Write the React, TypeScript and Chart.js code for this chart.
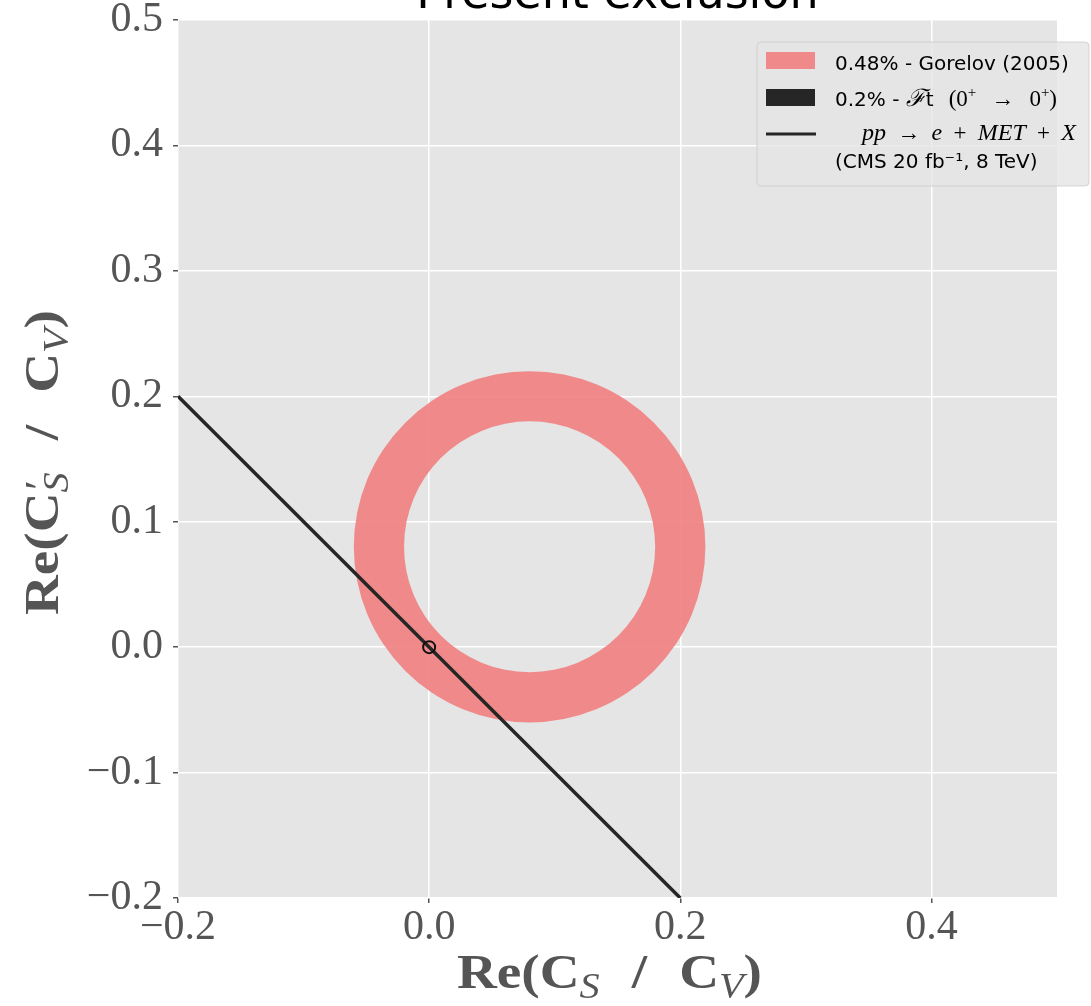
import React, { useEffect, useRef } from 'react';
import { Chart, registerables } from 'chart.js';
Chart.register(...registerables);

// ---- data ----
const xTicks = [-0.2, 0.0, 0.2, 0.4];
const yTicks = [-0.2, -0.1, 0.0, 0.1, 0.2, 0.3, 0.4, 0.5];
const xRange = [-0.2, 0.5];
const yRange = [-0.2, 0.5];
const ringCenter = [0.08, 0.08];
const ringOuterRadius = 0.14;
const ringInnerRadius = 0.1;
const cmsLineX = [-0.2, 0.2];
const cmsLineY = [0.2, -0.2];
const smPointX = [0.0];
const smPointY = [0.0];
const titleText = 'Present exclusion';
const legendGorelov = '0.48% - Gorelov (2005)';
const legendCms2 = '(CMS 20 fb\u207B\u00B9, 8 TeV)';

const TICK_FONT = '"Liberation Serif", serif';
const GRAY = '#555555';
const RING_COLOR = 'rgba(241,128,128,0.9)';
const DARK = '#262626';

type Piece = { t: string; f: string; dy?: number; gap?: boolean; over?: Piece };

function put(ctx: CanvasRenderingContext2D, text: string, font: string, x: number, y: number) {
  ctx.font = font;
  ctx.textAlign = 'left';
  ctx.textBaseline = 'alphabetic';
  ctx.fillText(text, x, y);
}

// lays out pieces from x, spreading extra space over marked gaps so the run spans `target`
function spread(ctx: CanvasRenderingContext2D, pieces: Piece[], target: number) {
  const widths = pieces.map((p) => {
    ctx.font = p.f;
    return ctx.measureText(p.t).width;
  });
  const natural = widths.reduce((a, b) => a + b, 0);
  const nGaps = pieces.filter((p) => p.gap).length;
  const extra = nGaps > 0 ? (target - natural) / nGaps : 0;
  let x = 0;
  pieces.forEach((p, i) => {
    put(ctx, p.t, p.f, x, p.dy || 0);
    if (p.over) put(ctx, p.over.t, p.over.f, x + 2, p.over.dy || 0);
    x += widths[i] + (p.gap ? extra : 0);
  });
}

const fmt = (v: number) => (v < 0 ? '\u2212' + Math.abs(v).toFixed(1) : v.toFixed(1));

const bgPlugin = {
  id: 'bgPlugin',
  beforeDraw(chart: any) {
    const { ctx, chartArea } = chart;
    ctx.save();
    ctx.fillStyle = '#e5e5e5';
    ctx.fillRect(chartArea.left, chartArea.top, chartArea.right - chartArea.left, chartArea.bottom - chartArea.top);
    ctx.restore();
  },
};

const ringPlugin = {
  id: 'ringPlugin',
  beforeDatasetsDraw(chart: any) {
    const { ctx, chartArea, scales } = chart;
    const xs = scales.x;
    const ys = scales.y;
    const cx = xs.getPixelForValue(ringCenter[0]);
    const cy = ys.getPixelForValue(ringCenter[1]);
    const rxo = Math.abs(xs.getPixelForValue(ringCenter[0] + ringOuterRadius) - cx);
    const ryo = Math.abs(ys.getPixelForValue(ringCenter[1] + ringOuterRadius) - cy);
    const rxi = Math.abs(xs.getPixelForValue(ringCenter[0] + ringInnerRadius) - cx);
    const ryi = Math.abs(ys.getPixelForValue(ringCenter[1] + ringInnerRadius) - cy);
    ctx.save();
    ctx.beginPath();
    ctx.rect(chartArea.left, chartArea.top, chartArea.right - chartArea.left, chartArea.bottom - chartArea.top);
    ctx.clip();
    ctx.beginPath();
    ctx.ellipse(cx, cy, rxo, ryo, 0, 0, Math.PI * 2);
    ctx.moveTo(cx + rxi, cy);
    ctx.ellipse(cx, cy, rxi, ryi, 0, 0, Math.PI * 2, true);
    ctx.fillStyle = RING_COLOR;
    ctx.fill('evenodd');
    ctx.restore();
  },
};

const B = 'bold 48px "Liberation Serif", serif';
const I = 'italic 35px "Liberation Serif", serif';
const PRIME = '40px "Liberation Serif", serif';
const STRETCH = 1.15;
const TITLE_SPAN = 305;

function drawAxisTitle(ctx: CanvasRenderingContext2D, withPrime: boolean) {
  ctx.save();
  ctx.scale(STRETCH, 1);
  spread(
    ctx,
    [
      { t: 'Re(C', f: B },
      withPrime
        ? { t: 'S', f: I, dy: 10, gap: true, over: { t: '\u2032', f: PRIME, dy: -6 } }
        : { t: 'S', f: I, dy: 10, gap: true },
      { t: '/', f: B, gap: true },
      { t: 'C', f: B },
      { t: 'V', f: I, dy: 10 },
      { t: ')', f: B },
    ],
    TITLE_SPAN / STRETCH
  );
  ctx.restore();
}

const textPlugin = {
  id: 'textPlugin',
  afterDraw(chart: any) {
    const { ctx, chartArea } = chart;
    ctx.save();
    // title (cut off at top)
    ctx.fillStyle = '#000';
    ctx.font = '46px "DejaVu Sans", sans-serif';
    ctx.textAlign = 'center';
    ctx.textBaseline = 'alphabetic';
    ctx.fillText(titleText, (chartArea.left + chartArea.right) / 2, 8);

    // x axis title
    ctx.fillStyle = GRAY;
    ctx.save();
    ctx.translate(457, 988);
    drawAxisTitle(ctx, false);
    ctx.restore();

    // y axis title (rotated)
    ctx.save();
    ctx.translate(58, 615);
    ctx.rotate(-Math.PI / 2);
    drawAxisTitle(ctx, true);
    ctx.restore();

    // legend
    const lx = 757;
    const ly = 42;
    const lw = 332;
    const lh = 144;
    ctx.beginPath();
    if ((ctx as any).roundRect) (ctx as any).roundRect(lx, ly, lw, lh, 4);
    else ctx.rect(lx, ly, lw, lh);
    ctx.fillStyle = 'rgba(229,229,229,0.8)';
    ctx.fill();
    ctx.strokeStyle = 'rgba(204,204,204,0.8)';
    ctx.lineWidth = 1;
    ctx.stroke();

    ctx.fillStyle = RING_COLOR;
    ctx.fillRect(766, 52, 49, 17);
    ctx.fillStyle = DARK;
    ctx.fillRect(766, 89, 49, 17);
    ctx.strokeStyle = DARK;
    ctx.lineWidth = 3;
    ctx.beginPath();
    ctx.moveTo(766, 134);
    ctx.lineTo(816, 134);
    ctx.stroke();

    const S = '20px "DejaVu Sans", sans-serif';
    const SR = '23px "Liberation Serif", serif';
    const SRi = 'italic 24px "Liberation Serif", serif';
    const SUP = '15px "Liberation Serif", serif';
    ctx.fillStyle = '#000';
    put(ctx, legendGorelov, S, 835, 70);

    ctx.save();
    ctx.translate(835, 106);
    spread(
      ctx,
      [
        { t: '0.2% - ', f: S },
        { t: '\u2131', f: SRi },
        { t: 't', f: S, gap: true },
        { t: '(0', f: SR },
        { t: '+', f: SUP, dy: -9, gap: true },
        { t: '\u2192', f: SR, gap: true },
        { t: '0', f: SR },
        { t: '+', f: SUP, dy: -9 },
        { t: ')', f: SR },
      ],
      222
    );
    ctx.restore();

    ctx.save();
    ctx.translate(862, 140);
    spread(
      ctx,
      [
        { t: 'pp', f: SRi, gap: true },
        { t: '\u2192', f: SR, gap: true },
        { t: 'e', f: SRi, gap: true },
        { t: '+', f: SR, gap: true },
        { t: 'MET', f: SRi, gap: true },
        { t: '+', f: SR, gap: true },
        { t: 'X', f: SRi },
      ],
      214
    );
    ctx.restore();

    put(ctx, legendCms2, S, 835, 168);
    ctx.restore();
  },
};

export default function App() {
  const ref = useRef<HTMLCanvasElement>(null);
  useEffect(() => {
    if (!ref.current) return;
    const chart = new Chart(ref.current, {
      type: 'scatter',
      data: {
        datasets: [
          {
            label: 'SM',
            data: smPointX.map((x, i) => ({ x, y: smPointY[i] })),
            pointRadius: 6,
            pointBorderWidth: 2,
            pointBorderColor: '#111',
            pointBackgroundColor: 'rgba(0,0,0,0)',
            order: 0,
          },
          {
            label: 'CMS',
            data: cmsLineX.map((x, i) => ({ x, y: cmsLineY[i] })),
            showLine: true,
            borderColor: DARK,
            borderWidth: 3.5,
            pointRadius: 0,
            order: 1,
          },
        ],
      },
      options: {
        animation: false,
        responsive: false,
        layout: { padding: { top: 20, right: 34, left: 0, bottom: 0 } },
        plugins: { legend: { display: false }, title: { display: false }, tooltip: { enabled: false } },
        scales: {
          x: {
            type: 'linear',
            min: xRange[0],
            max: xRange[1],
            afterBuildTicks: (s: any) => {
              s.ticks = xTicks.map((v) => ({ value: v }));
            },
            afterFit: (s: any) => {
              s.height = 108;
              s.paddingLeft = 0;
              s.paddingRight = 0;
            },
            border: { display: false },
            grid: { color: '#ffffff', lineWidth: 1.5, drawTicks: true, tickLength: 5, tickColor: GRAY },
            ticks: {
              font: { family: TICK_FONT, size: 42, lineHeight: 1.2 },
              color: GRAY,
              padding: 0,
              maxRotation: 0,
              callback: (v: any) => fmt(Number(v)),
            },
          },
          y: {
            type: 'linear',
            min: yRange[0],
            max: yRange[1],
            afterBuildTicks: (s: any) => {
              s.ticks = yTicks.map((v) => ({ value: v }));
            },
            afterFit: (s: any) => {
              s.width = 178;
              s.paddingTop = 0;
              s.paddingBottom = 0;
            },
            border: { display: false },
            grid: { color: '#ffffff', lineWidth: 1.5, drawTicks: true, tickLength: 5, tickColor: GRAY },
            ticks: {
              font: { family: TICK_FONT, size: 42 },
              color: GRAY,
              padding: 10,
              callback: (v: any) => fmt(Number(v)),
            },
          },
        },
      },
      plugins: [bgPlugin, ringPlugin, textPlugin],
    } as any);
    return () => chart.destroy();
  }, []);
  return (
    <div style={{ position: 'absolute', left: 0, top: 0, width: 1091, height: 1006 }}>
      <canvas ref={ref} width={1091} height={1006} style={{ display: 'block' }} />
    </div>
  );
}
